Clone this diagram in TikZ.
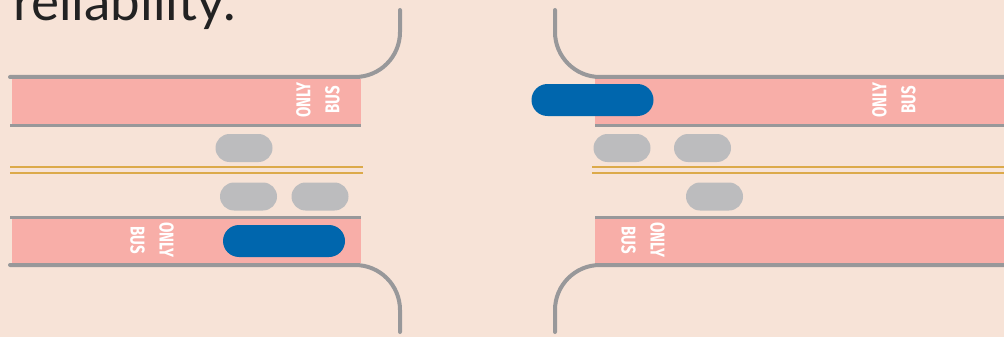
\documentclass[tikz,border=0pt]{standalone}
\usepackage{fontspec}
\setmainfont{Lato}
\newfontfamily\busfont[FakeStretch=0.75]{Fira Sans}
\definecolor{bgc}{HTML}{F7E3D7}
\definecolor{lanec}{HTML}{F8AEA8}
\definecolor{curbc}{HTML}{98989A}
\definecolor{busc}{HTML}{0066AD}
\definecolor{carc}{HTML}{BCBCBE}
\definecolor{yelc}{HTML}{DCAA4A}
\definecolor{txtc}{HTML}{222222}
\tikzset{
  curb/.style={draw=curbc, line width=4pt, line cap=round},
  edge/.style={draw=curbc, line width=3pt},
  yline/.style={draw=yelc, line width=2.8pt},
  lane/.style={fill=lanec, draw=none},
  bus/.style={fill=busc, draw=none, rounded corners=16pt, minimum width=122pt, minimum height=32pt, inner sep=0pt},
  car/.style={fill=carc, draw=none, rounded corners=14pt, minimum width=57pt, minimum height=28pt, inner sep=0pt},
  buslabel/.style={text=white, align=center, inner sep=0pt, font=\busfont\bfseries\fontsize{20}{29}\selectfont}
}
\begin{document}
\begin{tikzpicture}[x=1pt,y=-1pt]
\useasboundingbox (0,0) rectangle (1004,337);
\clip (0,0) rectangle (1004,337);
\fill[bgc] (0,0) rectangle (1004,337);
% heading text
\node[anchor=base west, inner sep=0pt, text=txtc, font=\fontsize{53}{53}\selectfont] (head) at (13,21) {reliability.};
% lanes left
\fill[lane] (12,79) rectangle (361,124);
\fill[lane] (12,219) rectangle (361,263);
% lanes right
\fill[lane] (595,79) rectangle (1004,124);
\fill[lane] (595,219) rectangle (1004,263);
% lane edge lines
\draw[edge] (10,125.5) -- (361,125.5);
\draw[edge] (10,217.5) -- (361,217.5);
\draw[edge] (595,125.5) -- (1004,125.5);
\draw[edge] (595,217.5) -- (1004,217.5);
% yellow centre lines
\draw[yline] (10,167) -- (363,167);
\draw[yline] (10,173) -- (363,173);
\draw[yline] (592,167) -- (1004,167);
\draw[yline] (592,173) -- (1004,173);
% curbs
\draw[curb] (10,77) -- (355,77) arc[start angle=90, end angle=0, radius=45] -- (400,10);
\draw[curb] (10,265) -- (355,265) arc[start angle=-90, end angle=0, radius=45] -- (400,332);
\draw[curb] (1004,77) -- (600,77) arc[start angle=90, end angle=180, radius=45] -- (555,10);
\draw[curb] (1004,265) -- (600,265) arc[start angle=-90, end angle=-180, radius=45] -- (555,332);
% labels
\node[buslabel, rotate=90] (l1) at (318,100) {ONLY\\BUS};
\node[buslabel, rotate=-90] (l2) at (152,240) {ONLY\\BUS};
\node[buslabel, rotate=90] (l3) at (894,100) {ONLY\\BUS};
\node[buslabel, rotate=-90] (l4) at (643,240) {ONLY\\BUS};
% buses
\node[bus] (busL) at (284,241) {};
\node[bus] (busR) at (592.5,100) {};
% cars
\node[car] (c1) at (244,148) {};
\node[car] (c2) at (248.5,196.5) {};
\node[car] (c3) at (320,196.5) {};
\node[car] (c4) at (622,148) {};
\node[car] (c5) at (702.5,148) {};
\node[car] (c6) at (714.5,196.5) {};
\end{tikzpicture}
\end{document}
